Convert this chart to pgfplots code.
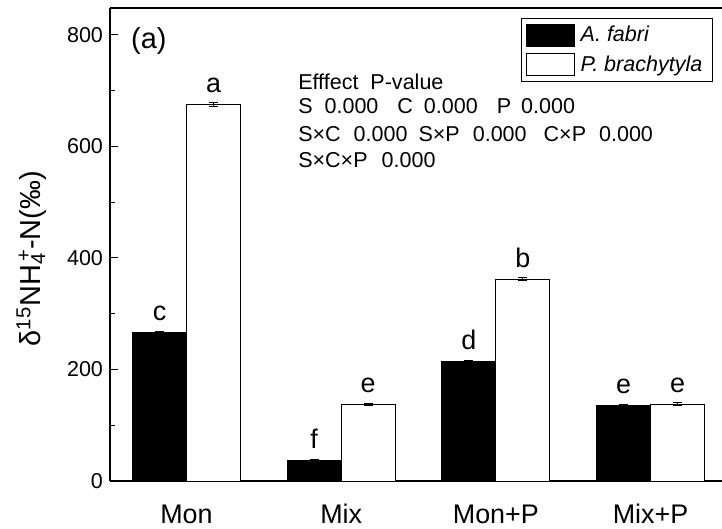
\documentclass[border=0pt]{standalone}
\usepackage{pgfplots}
\pgfplotsset{compat=1.18}
\usepackage{pgfplotstable}
\usepackage{fontspec}
\setmainfont{Liberation Sans}

% group positions 1..4: Mon, Mix, Mon+P, Mix+P
\pgfplotstableread{
x y e lbl
1 266 2 c
2 37 1 f
3 215 2 d
4 135 2 e
}\fabri
\pgfplotstableread{
x y e lbl
1 675 3 a
2 138 2 e
3 362 3 b
4 138 3 e
}\brachy

\pgfplotsset{
  swatch/.style={legend image code/.code={
    \draw[##1, draw=black, line width=0.5pt] (0bp,-5.5bp) rectangle (24bp,5.5bp);}},
}

\begin{document}
\begin{tikzpicture}
\begin{axis}[
    name=ax,
    scale only axis,
    width=306bp, height=236.5bp,
    ybar=0pt, bar width=27bp,
    xmin=0.5055, xmax=4.462,
    ymin=0, ymax=848,
    axis y line*=left, axis x line*=box,
    axis line style={black, line width=0.6pt},
    xtick={1,2,3,4},
    xticklabels={Mon, Mix, Mon+P, Mix+P},
    xtick style={draw=none},
    xticklabel style={font=\fontsize{13.5}{15}\selectfont, text height=9.6bp,
                      text depth=0pt, yshift=-8bp},
    ytick={0,200,400,600,800},
    minor y tick num=1,
    ytick pos=left,
    tick align=inside,
    major tick length=4bp, minor tick length=2.5bp,
    ytick style={black, line width=0.5pt},
    yticklabel style={font=\fontsize{10.8}{12}\selectfont},
    /pgf/number format/assume math mode=true,
    ylabel={δ\textsuperscript{15}NH\rlap{\textsuperscript{\,+}}\textsubscript{4}\hspace{1.5bp}-N(‰)},
    ylabel style={at={(axis description cs:-0.128,0.47)}, anchor=center,
                  font=\fontsize{14.5}{16}\selectfont},
    legend style={at={(0.985,0.978)}, anchor=north east, draw=black,
                  line width=0.5pt,
                  font=\itshape\fontsize{10.8}{12}\selectfont,
                  inner xsep=2bp, inner ysep=1.5bp, row sep=1.5bp,
                  nodes={inner xsep=3bp}},
    legend cell align=left,
    point meta=explicit symbolic,
    nodes near coords,
    every node near coord/.append style={font=\fontsize{13.5}{15}\selectfont,
                  inner sep=0pt, anchor=south, yshift=5.5bp, black},
    errs/.style={error bars/.cd, y dir=both, y explicit,
      error bar style={black, line width=0.4pt},
      error mark options={rotate=90, mark size=2.3bp, black, line width=0.4pt}},
]
\addplot[fill=black, draw=black, line width=0.5pt, swatch, errs]
    table[x=x, y=y, y error=e, meta=lbl] {\fabri};
\addlegendentry{A. fabri}
\addplot[fill=white, draw=black, line width=0.5pt, swatch, errs]
    table[x=x, y=y, y error=e, meta=lbl] {\brachy};
\addlegendentry{P. brachytyla}

\node[anchor=west, inner sep=0pt, font=\fontsize{14.5}{16}\selectfont]
    at (axis description cs:0.034,0.930) {(a)};

\begin{scope}[every node/.style={anchor=base west, inner sep=0pt,
        font=\fontsize{10.8}{12}\selectfont}]
\node at (axis cs:1.72,702) {Efffect\hspace{6bp}P-value};
\node at (axis cs:1.72,659) {S\hspace{6bp}0.000\hspace{9.5bp}C\hspace{5.5bp}0.000\hspace{9.5bp}P\hspace{5bp}0.000};
\node at (axis cs:1.72,609) {S×C\hspace{6.5bp}0.000\hspace{5.5bp}S×P\hspace{6.5bp}0.000\hspace{8.5bp}C×P\hspace{6.5bp}0.000};
\node at (axis cs:1.72,562) {S×C×P\hspace{7bp}0.000};
\end{scope}
\end{axis}
\pgfresetboundingbox
\path ([xshift=-55bp,yshift=-24bp]ax.south west) rectangle ([yshift=4bp]ax.north east);
\end{tikzpicture}
\end{document}
